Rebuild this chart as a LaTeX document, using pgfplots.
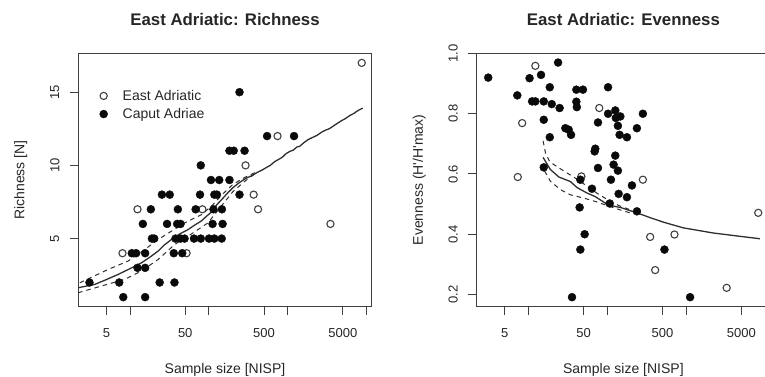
\documentclass[border=0pt]{standalone}
\usepackage{fontspec}
\setmainfont{Liberation Sans}
\usepackage{pgfplots}
\pgfplotsset{compat=1.18}
\definecolor{boxc}{gray}{0.25}
\definecolor{linec}{gray}{0.18}
\definecolor{ptc}{gray}{0.04}
\definecolor{txt}{gray}{0.15}
\begin{document}
\begin{tikzpicture}
% ---------------- Left: Richness ----------------
\begin{axis}[
  scale only axis, width=293.4pt, height=253pt,
  at={(78.3pt,69.5pt)}, anchor=south west,
  xmode=log, xmin=2.2, xmax=11600,
  xtick={5,10,50,100,500,1000,5000,10000},
  xticklabels={5,,50,,500,,5000,},
  xminorticks=false, yminorticks=false,
  tick align=outside, major tick length=8.5pt,
  xtick pos=left, ytick pos=left,
  axis line style={boxc, line width=1.2pt},
  every tick/.append style={boxc, line width=1pt},
  tick label style={font=\fontsize{13}{15}\selectfont, text=txt},
  xticklabel style={anchor=center, yshift=-18.5pt},
  yticklabel style={xshift=-15pt, rotate=90, anchor=center},
  label style={font=\fontsize{14}{16}\selectfont, text=txt},
  xlabel style={at={(axis description cs:0.5,-0.252)}, anchor=center},
  ylabel style={at={(axis description cs:-0.196,0.5)}, anchor=center},
  every axis title shift=0pt,
  title style={at={(axis description cs:0.5,1.134)}, anchor=center, font=\fontsize{16.8}{20}\selectfont\bfseries, text=txt},
  xlabel={Sample size [NISP]},
  ymin=0.36, ymax=17.64, ytick={5,10,15}, yticklabels={5,10,15},
  ylabel={Richness [N]}, title={East Adriatic: Richness},
  legend style={draw=none, fill=none, at={(0.062,0.872)}, anchor=north west,
    font=\fontsize{14}{16}\selectfont, text=txt, row sep=2.5pt,
    /tikz/every odd column/.append style={column sep=13pt}},
  legend cell align=left]
\addplot[only marks, mark=o, mark size=3.6pt, mark options={draw=black!75, line width=1.1pt}] table {
x y
8.0 4
12.4 7
52 4
82.6 7
291 10
369 8
419 7
741 12
3475 6
8670 17
};
\addlegendentry{East Adriatic}
\addplot[only marks, mark=*, mark size=4pt, mark options={draw=ptc, fill=ptc}] table {
x y
3.05 2
7.27 2
8.18 1
10.5 4
11.9 4
15.5 4
12.4 3
15.5 3
15.5 1
18.3 7
14.5 6
18.9 5
20.2 5
23.7 2
36.5 2
25.3 8
31.8 8
29.4 6
35.8 4
45.8 4
40.3 7
39.5 6
43.6 6
37.6 5
43.6 5
49 5
78.7 10
67.8 7
77 8
64.6 5
78.7 5
106 9
135 9
182 9
117 8
126 8
114 7
146 7
111 6
149 6
100 5
117 5
145 5
182 11
206 11
283 11
244 15
244 8
546 12
1200 12
};
\addlegendentry{Caput Adriae}
\addplot[linec, line width=1.3pt, forget plot] table {
x y
2.19 1.64
3.56 1.87
5 2.2
7.03 2.55
10 2.95
13.9 3.34
18 3.75
22.6 4.14
27 4.55
33.3 4.93
42 5.3
54.2 5.61
65 5.9
80 6.2
92 6.5
107 6.8
125 7.3
150 7.75
175 8.15
201 8.47
240 8.8
290 9.1
350 9.3
420 9.55
480 9.7
533 9.85
600 10.0
680 10.25
760 10.4
850 10.55
950 10.8
1060 10.95
1180 11.05
1300 11.25
1413 11.3
1600 11.55
1800 11.75
2050 11.9
2350 12.05
2650 12.25
3000 12.4
3350 12.5
3725 12.66
4200 12.85
4800 13.05
5400 13.2
6100 13.4
6900 13.55
7800 13.75
8930 13.91
};
\addplot[linec, line width=1pt, dash pattern=on 4.5pt off 4pt, forget plot] table {
x y
2.3 1.98
5.25 2.89
9.4 3.46
15.3 4.25
22.6 4.93
33.3 5.5
49.2 6.07
80 6.63
107 7.2
150 8.05
201 8.7
290 9.2
400 9.55
};
\addplot[linec, line width=1pt, dash pattern=on 4.5pt off 4pt, forget plot] table {
x y
2.19 1.30
4.33 1.76
8.5 2.21
13.9 2.78
22.6 3.57
36.7 4.59
54.2 5.16
97 6.07
150 7.35
201 8.2
290 8.95
400 9.5
};
\end{axis}
% ---------------- Right: Evenness ----------------
\begin{axis}[
  scale only axis, width=293.4pt, height=253pt,
  at={(476.7pt,69.5pt)}, anchor=south west,
  xmode=log, xmin=2.2, xmax=11600,
  xtick={5,10,50,100,500,1000,5000,10000},
  xticklabels={5,,50,,500,,5000,},
  xminorticks=false, yminorticks=false,
  tick align=outside, major tick length=8.5pt,
  xtick pos=left, ytick pos=left,
  axis line style={boxc, line width=1.2pt},
  every tick/.append style={boxc, line width=1pt},
  tick label style={font=\fontsize{13}{15}\selectfont, text=txt},
  xticklabel style={anchor=center, yshift=-18.5pt},
  yticklabel style={xshift=-15pt, rotate=90, anchor=center},
  label style={font=\fontsize{14}{16}\selectfont, text=txt},
  xlabel style={at={(axis description cs:0.5,-0.252)}, anchor=center},
  ylabel style={at={(axis description cs:-0.196,0.5)}, anchor=center},
  every axis title shift=0pt,
  title style={at={(axis description cs:0.5,1.134)}, anchor=center, font=\fontsize{16.8}{20}\selectfont\bfseries, text=txt},
  xlabel={Sample size [NISP]},
  ymin=0.16, ymax=1.0, ytick={0.2,0.4,0.6,0.8,1.0}, yticklabels={0.2,0.4,0.6,0.8,1.0},
  ylabel={Evenness (H\textquotesingle/H\textquotesingle max)}, title={East Adriatic: Evenness}]
\addplot[only marks, mark=o, mark size=3.6pt, mark options={draw=black!75, line width=1.1pt}] table {
x y
12.2 0.959
8.3 0.769
7.3 0.59
78.9 0.819
46.8 0.592
282 0.581
349 0.391
710 0.399
404 0.281
3260 0.222
8200 0.471
};
\addplot[only marks, mark=*, mark size=4pt, mark options={draw=ptc, fill=ptc}] table {
x y
3.08 0.92
7.2 0.861
10.3 0.918
14.4 0.929
11.1 0.841
12.2 0.841
15.6 0.841
18.6 0.888
19.7 0.832
24.8 0.819
23.7 0.970
15.6 0.78
18.6 0.722
15.6 0.622
29.3 0.752
32.3 0.747
34.6 0.730
40.4 0.88
49 0.88
40.4 0.84
41 0.822
45.4 0.581
44.5 0.489
45.4 0.349
51.5 0.40
35.6 0.191
63.8 0.551
70.3 0.684
69 0.675
76 0.771
76 0.62
102 0.888
102 0.8
111 0.581
107 0.502
126 0.811
126 0.661
120 0.631
128 0.786
146 0.791
136 0.76
136 0.611
139 0.534
143 0.730
177 0.722
177 0.523
205 0.562
237 0.752
282 0.8
237 0.476
530 0.349
1120 0.191
};
\addplot[linec, line width=1.3pt, forget plot] table {
x y
15.3 0.655
18.9 0.615
24.2 0.59
33.9 0.575
41.2 0.555
55 0.537
70 0.525
103 0.497
150 0.488
237 0.471
349 0.455
515 0.44
923 0.421
2210 0.404
4810 0.393
8610 0.385
};
\addplot[linec, line width=1pt, dash pattern=on 4.5pt off 4pt, forget plot] table {
x y
15.3 0.71
16.4 0.67
18.6 0.64
28 0.61
40 0.585
55 0.56
75 0.535
100 0.515
140 0.495
200 0.48
};
\addplot[linec, line width=1pt, dash pattern=on 4.5pt off 4pt, forget plot] table {
x y
16 0.61
18.9 0.576
25.4 0.548
33.9 0.531
50 0.52
70 0.509
100 0.495
140 0.482
200 0.47
};
\end{axis}
\pgfresetboundingbox
\useasboundingbox (0pt,0pt) rectangle (765pt,376pt);
\end{tikzpicture}
\end{document}
